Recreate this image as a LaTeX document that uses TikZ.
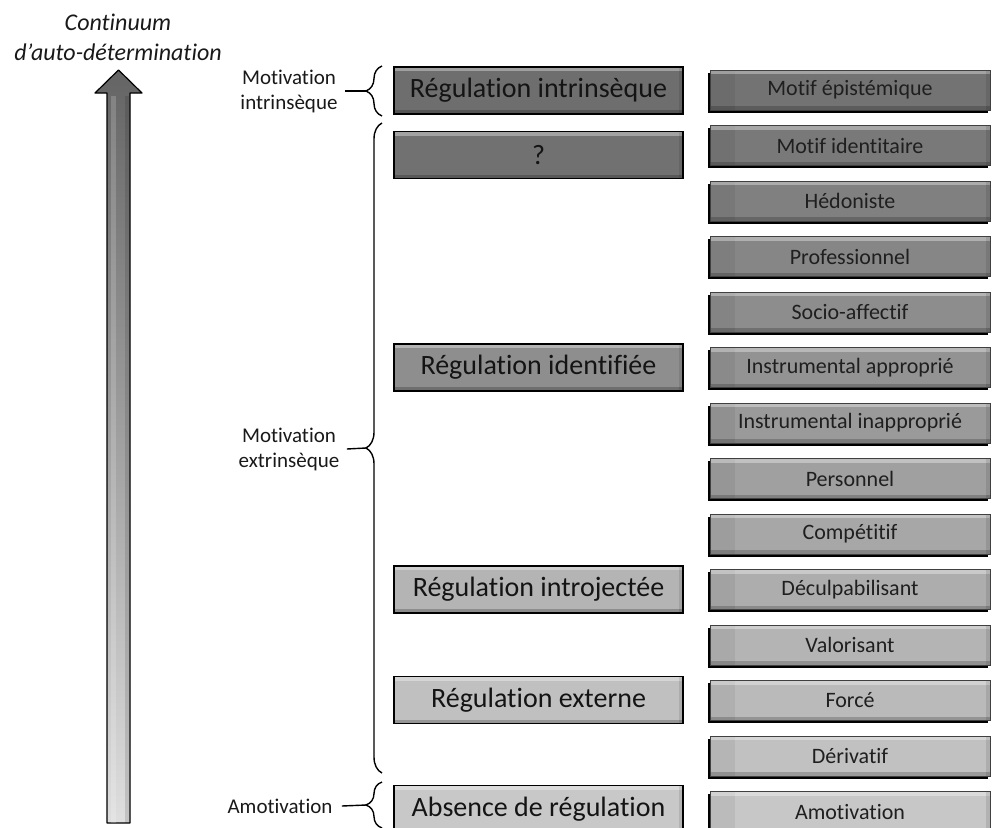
\documentclass[tikz,border=0pt]{standalone}
\usepackage{fontspec}
\setmainfont{Carlito}[Ligatures=NoCommon]
\usetikzlibrary{decorations.pathreplacing,shadows}
\begin{document}
\begin{tikzpicture}[x=1pt,y=-1pt,
  lbox/.style={draw=black,line width=1.8pt,minimum width=289pt,minimum height=47pt,inner sep=0pt,outer sep=0pt,
    text=black!92,font=\fontsize{28}{30}\selectfont,
    path picture={
      \fill[white,opacity=0.35] (path picture bounding box.north west) rectangle ([yshift=-4pt]path picture bounding box.north east);
      \fill[black,opacity=0.22] (path picture bounding box.south west) rectangle ([yshift=4pt]path picture bounding box.south east);
      \fill[black,opacity=0.10] (path picture bounding box.south east) rectangle ([xshift=-4pt]path picture bounding box.north east);
    }},
  rbox/.style={draw=black!75,line width=0.8pt,minimum width=280pt,minimum height=40pt,inner sep=0pt,outer sep=0pt,
    text=black!88,font=\fontsize{22}{24}\selectfont,
    drop shadow={shadow xshift=-2.5pt,shadow yshift=-2.5pt,opacity=1,fill=black},
    path picture={
      \fill[black,opacity=0.06] (path picture bounding box.south west) rectangle ([xshift=25pt]path picture bounding box.north west);
      \fill[white,opacity=0.35] (path picture bounding box.north west) rectangle ([yshift=-4pt]path picture bounding box.north east);
      \fill[black,opacity=0.20] (path picture bounding box.south west) rectangle ([yshift=4pt]path picture bounding box.south east);
      \fill[black,opacity=0.10] (path picture bounding box.south east) rectangle ([xshift=-4pt]path picture bounding box.north east);
    }},
  lab/.style={align=center,font=\fontsize{21}{25}\selectfont,text=black!90},
  mybrace/.style={decorate,decoration={brace,amplitude=16pt},line width=1.4pt},
  tick/.style={line width=1.4pt}
]
\useasboundingbox (0,0) rectangle (1000,827);
\clip (0,0) rectangle (1000,827);

% title
\node[align=center,font=\itshape\fontsize{24}{30}\selectfont,text=black!90] (title) at (118,37) {Continuum\\d’auto-détermination};

% big arrow
\shadedraw[top color={rgb,255:red,100;green,100;blue,100},bottom color={rgb,255:red,222;green,222;blue,222},draw=black,line width=1.2pt,line join=round]
  (107,823) -- (107,93) -- (95,93) -- (118.5,70) -- (142,93) -- (130,93) -- (130,823) -- cycle;
\fill[white,opacity=0.18] (111,823) -- (111,96) -- (116,96) -- (116,823) -- cycle;
\fill[black,opacity=0.12] (125,823) -- (125,96) -- (129,96) -- (129,823) -- cycle;

% left boxes
\node[lbox,fill={rgb,255:red,110;green,110;blue,110}] (l1) at (538.5,90.5) {Régulation intrinsèque};
\node[lbox,fill={rgb,255:red,113;green,113;blue,113}] (l2) at (538.5,155) {?};
\node[lbox,fill={rgb,255:red,142;green,142;blue,142}] (l3) at (538.5,367.5) {Régulation identifiée};
\node[lbox,fill={rgb,255:red,180;green,180;blue,180}] (l4) at (538.5,589.5) {Régulation introjectée};
\node[lbox,fill={rgb,255:red,192;green,192;blue,192}] (l5) at (538.5,700) {Régulation externe};
\node[lbox,fill={rgb,255:red,200;green,200;blue,200}] (l6) at (538.5,809) {Absence de régulation};

% right boxes
\foreach \t [count=\k from 0] in {Motif épistémique,Motif identitaire,Hédoniste,Professionnel,Socio-affectif,Instrumental approprié,Instrumental inapproprié,Personnel,Compétitif,Déculpabilisant,Valorisant,Forcé,Dérivatif,Amotivation}{
  \pgfmathtruncatemacro\v{115+6.5*\k}
  \pgfmathsetmacro\yy{90+55.5*\k}
  \node[rbox,fill={rgb,255:red,\v;green,\v;blue,\v}] (r\k) at (850,\yy) {\t};
}

% braces and labels
\draw[mybrace] (382,116) -- (382,66);
\coordinate (b1t) at (366,91);
\node[lab] (m1) at (289,91) {Motivation\\intrinsèque};
\draw[tick] (b1t) -- ([xshift=4pt]m1.east);

\draw[mybrace] (382,773) -- (382,123);
\coordinate (b2t) at (366,448);
\node[lab] (m2) at (289,449) {Motivation\\extrinsèque};
\draw[tick] (b2t) -- ([xshift=4pt]m2.east);

\draw[mybrace] (382,828) -- (382,782);
\coordinate (b3t) at (366,805);
\node[lab] (m3) at (280,806) {Amotivation};
\draw[tick] (b3t) -- ([xshift=6pt]m3.east);
\end{tikzpicture}
\end{document}
